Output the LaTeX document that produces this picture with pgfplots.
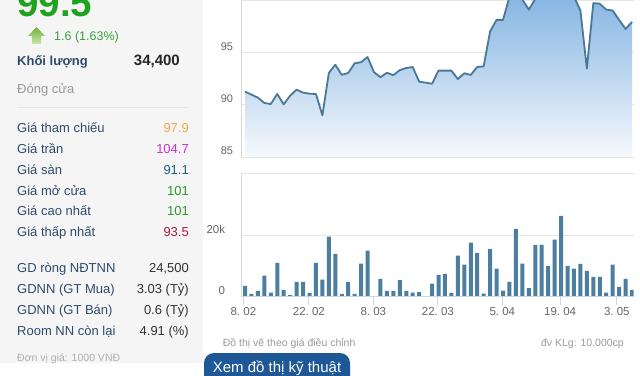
\documentclass[border=0pt]{standalone}
\usepackage{fontspec}
\setmainfont{Liberation Sans}
\usepackage{pgfplots}
\usepackage{pgfplotstable}
\pgfplotsset{compat=1.18}
\definecolor{pricegreen}{HTML}{1FA31F}
\definecolor{chggreen}{HTML}{3A9E3A}
\definecolor{labelblue}{HTML}{2F4B6C}
\definecolor{gridgray}{HTML}{E6E6E6}
\definecolor{labgray}{HTML}{666666}
\definecolor{linecol}{HTML}{4A7898}
\definecolor{areatop}{HTML}{7EB0E0}
\definecolor{areabot}{HTML}{F6F9FD}
\definecolor{barcol}{HTML}{4C7F9F}
\definecolor{panel}{HTML}{F5F5F5}
\definecolor{btnblue}{HTML}{1E5896}
\definecolor{tickblue}{HTML}{C8D6EA}
\definecolor{axisgray}{HTML}{D8D8D8}
\definecolor{vorange}{HTML}{F0A848}
\definecolor{vmagenta}{HTML}{CC33CC}
\definecolor{vteal}{HTML}{1D5F80}
\definecolor{vgreen}{HTML}{2A9A2A}
\definecolor{vred}{HTML}{A61C3A}
\definecolor{lightgray}{HTML}{9A9A9A}
\definecolor{arrowtop}{HTML}{6DB33F}
\definecolor{arrowbot}{HTML}{C9E6A8}
\newcommand\fs[1]{\fontsize{#1}{#1}\selectfont}

\pgfplotstableread{
x y
1 91.24
2 90.96
3 90.67
4 90.16
5 90.06
6 91.02
7 90.03
8 90.86
9 91.43
10 91.15
11 91.05
12 91.02
13 88.98
14 93.03
15 93.82
16 92.85
17 93.03
18 93.95
19 94.06
20 94.55
21 93.10
22 92.62
23 93.05
24 92.82
25 93.30
26 93.50
27 93.60
28 92.20
29 92.10
30 92.00
31 93.25
32 93.25
33 93.25
34 92.45
35 93.00
36 92.84
37 93.60
38 93.66
39 97.00
40 98.10
41 98.10
42 100.3
43 101.0
44 100.05
45 99.08
46 100.1
47 101.2
48 101.5
49 101.2
50 100.8
51 101.3
52 100.3
53 99.0
54 93.44
55 99.70
56 99.65
57 99.08
58 99.00
59 98.10
60 97.23
61 97.90
}\pricetable

\pgfplotstableread{
x y
1 85
1 91.24
2 90.96
3 90.67
4 90.16
5 90.06
6 91.02
7 90.03
8 90.86
9 91.43
10 91.15
11 91.05
12 91.02
13 88.98
14 93.03
15 93.82
16 92.85
17 93.03
18 93.95
19 94.06
20 94.55
21 93.10
22 92.62
23 93.05
24 92.82
25 93.30
26 93.50
27 93.60
28 92.20
29 92.10
30 92.00
31 93.25
32 93.25
33 93.25
34 92.45
35 93.00
36 92.84
37 93.60
38 93.66
39 97.00
40 98.10
41 98.10
42 100.3
43 101.0
44 100.05
45 99.08
46 100.1
47 101.2
48 101.5
49 101.2
50 100.8
51 101.3
52 100.3
53 99.0
54 93.44
55 99.70
56 99.65
57 99.08
58 99.00
59 98.10
60 97.23
61 97.90
61 85
}\areatable

\pgfplotstableread{
x v
1 3500
2 900
3 1900
4 6800
5 1300
6 11000
7 2200
8 500
9 4800
10 4800
11 1200
12 11000
13 5500
14 19500
15 13900
16 900
17 4800
18 900
19 10700
20 14900
21 200
22 5800
23 1900
24 1900
25 5400
26 1900
27 1300
28 1500
29 0
30 4200
31 7100
32 7400
33 1200
34 13300
35 10400
36 17500
37 14200
38 1000
39 15500
40 9100
41 2000
42 4800
43 22000
44 10700
45 2800
46 16800
47 16800
48 10000
49 18500
50 26200
51 10000
52 9100
53 10600
54 8400
55 6400
56 6400
57 1300
58 10400
59 3200
60 5800
61 2200
}\voltable

\begin{document}
\begin{tikzpicture}[x=1pt,y=1pt]
\useasboundingbox (0,0) rectangle (640,375);
\begin{scope}
\clip (0,0) rectangle (640,375);
\fill[white] (0,0) rectangle (640,375);
\fill[panel] (0,12) rectangle (203,375);

% header
\node[anchor=base west, inner sep=0pt, text=pricegreen, font=\bfseries\fs{38.5}] at (17,358) {99.5};
\shade[top color=arrowtop, bottom color=arrowbot] (36.5,348) -- (45,339) -- (41,339) -- (41,331) -- (32,331) -- (32,339) -- (28,339) -- cycle;
\node[anchor=base west, inner sep=0pt, text=chggreen, font=\fs{12.5}] at (54,334.5) {1.6 (1.63\%)};
\node[anchor=base west, inner sep=0pt, text=labelblue, font=\bfseries\fs{13}] at (17,309.4) {Khối lượng};
\node[anchor=base east, inner sep=0pt, text=black!85, font=\bfseries\fs{15}] at (180,309.4) {34,400};
\node[anchor=base west, inner sep=0pt, text=lightgray, font=\fs{13}] at (17,281.4) {Đóng cửa};
\draw[gridgray, line width=0.8pt] (17,268) -- (188,268);

% price rows
\begin{scope}[every node/.style={inner sep=0pt, font=\fs{13}}]
\node[anchor=base west, text=labelblue] at (17,242) {Giá tham chiếu};
\node[anchor=base west, text=labelblue] at (17,221.3) {Giá trần};
\node[anchor=base west, text=labelblue] at (17,200.6) {Giá sàn};
\node[anchor=base west, text=labelblue] at (17,179.9) {Giá mở cửa};
\node[anchor=base west, text=labelblue] at (17,159.2) {Giá cao nhất};
\node[anchor=base west, text=labelblue] at (17,138.5) {Giá thấp nhất};
\node[anchor=base east, text=vorange] at (189,242) {97.9};
\node[anchor=base east, text=vmagenta] at (189,221.3) {104.7};
\node[anchor=base east, text=vteal] at (189,200.6) {91.1};
\node[anchor=base east, text=vgreen] at (189,179.9) {101};
\node[anchor=base east, text=vgreen] at (189,159.2) {101};
\node[anchor=base east, text=vred] at (189,138.5) {93.5};

\node[anchor=base west, text=labelblue] at (17,102) {GD ròng NĐTNN};
\node[anchor=base west, text=labelblue] at (17,81.3) {GDNN (GT Mua)};
\node[anchor=base west, text=labelblue] at (17,60.6) {GDNN (GT Bán)};
\node[anchor=base west, text=labelblue] at (17,39.9) {Room NN còn lại};
\node[anchor=base east, text=black!80] at (189,102) {24,500};
\node[anchor=base east, text=black!80] at (189,81.3) {3.03 (Tỷ)};
\node[anchor=base east, text=black!80] at (189,60.6) {0.6 (Tỷ)};
\node[anchor=base east, text=black!80] at (189,39.9) {4.91 (\%)};
\end{scope}
\node[anchor=base west, inner sep=0pt, text=lightgray!80, font=\fs{10.5}] at (17,14) {Đơn vị giá: 1000 VNĐ};

% bottom texts and button
\node[anchor=base west, inner sep=0pt, text=lightgray, font=\fs{10.5}] at (222.7,28) {Đồ thị vẽ theo giá điều chỉnh};
\node[anchor=base east, inner sep=0pt, text=lightgray, font=\fs{10.5}] at (624,28) {đv KLg: 10,000cp};
\fill[btnblue, rounded corners=10pt] (204,-12) rectangle (350,22);
\node[anchor=base, inner sep=0pt, text=white, font=\fs{15}] at (277,3) {Xem đồ thị kỹ thuật};

% upper chart
\begin{axis}[
  at={(241pt,218pt)}, anchor=south west, scale only axis,
  width=392.5pt, height=157pt,
  xmin=0.38, xmax=61.23, ymin=85, ymax=100,
  xtick=\empty, ytick={85,90,95,100}, yticklabels={85,90,95,},
  ymajorgrids, grid style={gridgray, line width=0.8pt},
  axis line style={draw=none}, major tick length=0pt,
  yticklabel style={font=\fs{11}, text=labgray, inner sep=0pt, xshift=-7.7pt, yshift=6pt},
]
\addplot[draw=none, top color=areatop, bottom color=areabot] table[x=x, y=y] {\areatable};
\addplot[linecol, line width=1.8pt, line join=round, mark=none] table[x=x, y=y] {\pricetable};
\draw[axisgray, line width=0.8pt] (rel axis cs:0,0) -- (rel axis cs:0,1);
\end{axis}

% lower chart
\begin{axis}[
  at={(241pt,78.3pt)}, anchor=south west, scale only axis,
  width=392.5pt, height=123.4pt,
  xmin=0.38, xmax=61.23, ymin=0, ymax=40000,
  ytick={0,20000,40000}, yticklabels={0,20k,}, scaled y ticks=false,
  xtick={0.75,10.9,20.9,30.9,40.9,49.85,58.65},
  xticklabels={8.\ 02,22.\ 02,8.\ 03,22.\ 03,5.\ 04,19.\ 04,3.\ 05},
  ymajorgrids, grid style={gridgray, line width=0.8pt},
  axis line style={draw=none},
  ytick style={draw=none},
  xtick style={draw=tickblue, line width=0.8pt},
  tick align=outside, xtick pos=bottom,
  major tick length=8pt,
  xticklabel style={font=\fs{11.5}, text=labgray, inner sep=0pt, yshift=-3pt},
  yticklabel style={font=\fs{11.5}, text=labgray, inner sep=0pt, xshift=-7.7pt, yshift=6pt},
]
\addplot[ybar, bar width=4pt, fill=barcol, draw=none] table[x=x, y=v] {\voltable};
\draw[axisgray, line width=0.8pt] (rel axis cs:0,0) -- (rel axis cs:0,1);
\draw[tickblue, line width=0.8pt] (rel axis cs:0,0) -- (rel axis cs:1,0);
\end{axis}
\end{scope}
\end{tikzpicture}
\end{document}
